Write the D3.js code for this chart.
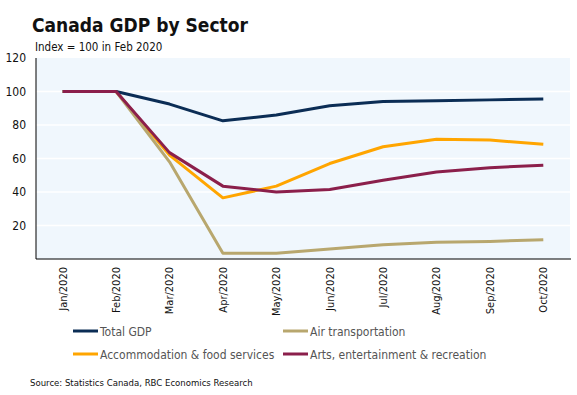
<!DOCTYPE html>
<html><head><meta charset="utf-8">
<script src="https://cdn.jsdelivr.net/npm/d3@7"></script>
<style>body{margin:0;background:#fff;} svg{display:block;font-family:"DejaVu Sans Condensed","DejaVu Sans",sans-serif;font-stretch:condensed;}</style>
</head><body>
<svg id="c" width="577" height="395"></svg>
<script>
const months = ["Jan/2020","Feb/2020","Mar/2020","Apr/2020","May/2020","Jun/2020","Jul/2020","Aug/2020","Sep/2020","Oct/2020"];
const totalGDP = [100,100,92.5,82.5,86,91.5,94,94.5,95,95.5];
const airTransport = [100,100,58,3.5,3.5,6,8.5,10,10.5,11.5];
const accommodation = [100,100,62,36.5,43.5,57,67,71.5,71,68.5];
const arts = [100,100,63.5,43.5,40,41.5,47,52,54.5,56];
const yTicks = [20,40,60,80,100,120];
const seriesNames = ["Total GDP","Air transportation","Accommodation & food services","Arts, entertainment & recreation"];
const seriesColors = ["#0b2d55","#b8a76e","#ffa500","#8b1f4b"];
const seriesData = [totalGDP, airTransport, accommodation, arts];

const FF = '"DejaVu Sans Condensed","DejaVu Sans",sans-serif';
const svg = d3.select("#c");
const L=36, R=570, T=58, B=259;
const x = d3.scaleBand().domain(months).range([L,R]);
const y = d3.scaleLinear().domain([0,120]).range([B,T]);

svg.append("text").attr("x",32).attr("y",32).attr("font-size",19).attr("font-weight","bold").attr("fill","#111").text("Canada GDP by Sector");
svg.append("text").attr("x",35).attr("y",51).attr("font-size",11.5).attr("fill","#111").text("Index = 100 in Feb 2020");

svg.append("rect").attr("x",L).attr("y",T).attr("width",R-L).attr("height",B-T).attr("fill","#f0f7fd");
svg.append("g").selectAll("line").data(yTicks.filter(d=>d<120)).join("line")
  .attr("x1",L).attr("x2",R).attr("y1",d=>y(d)).attr("y2",d=>y(d)).attr("stroke","#fff").attr("stroke-width",1.5);

const yAxis = svg.append("g").attr("transform",`translate(${L},0)`)
  .call(d3.axisLeft(y).tickValues(yTicks).tickSize(0).tickPadding(10));
yAxis.select(".domain").attr("stroke","#000").attr("d",`M0,${B}V${T}`);
yAxis.selectAll("text").attr("font-size",12).attr("fill","#111").attr("font-family",FF);

const xAxis = svg.append("g").attr("transform",`translate(0,${B})`)
  .call(d3.axisBottom(x).tickSize(0));
xAxis.select(".domain").attr("stroke","#000").attr("d",`M${L},0H${R+1}`);
xAxis.selectAll("text").attr("font-size",11).attr("fill","#111").attr("font-family",FF)
  .attr("transform","rotate(-90)").attr("text-anchor","end").attr("dx","-8").attr("dy","0.35em").attr("x",0).attr("y",0);

const line = d3.line().x((d,i)=>x(months[i])+x.bandwidth()/2).y(d=>y(d));
const order = [2,1,0,3];
order.forEach(k=>{
  svg.append("path").datum(seriesData[k]).attr("d",line).attr("fill","none")
    .attr("stroke",seriesColors[k]).attr("stroke-width",3).attr("stroke-linejoin","round");
});

const legendPos = [[73,331],[283,331],[73,354],[283,354]];
seriesNames.forEach((n,i)=>{
  const [lx,ly]=legendPos[i];
  svg.append("line").attr("x1",lx).attr("x2",lx+25).attr("y1",ly).attr("y2",ly).attr("stroke",seriesColors[i]).attr("stroke-width",3);
  svg.append("text").attr("x",lx+27).attr("y",ly+4.5).attr("font-size",12).attr("fill","#555").text(n);
});
svg.append("text").attr("x",30).attr("y",386).attr("font-size",9.5).attr("fill","#111").text("Source: Statistics Canada, RBC Economics Research");
</script>
</body></html>
